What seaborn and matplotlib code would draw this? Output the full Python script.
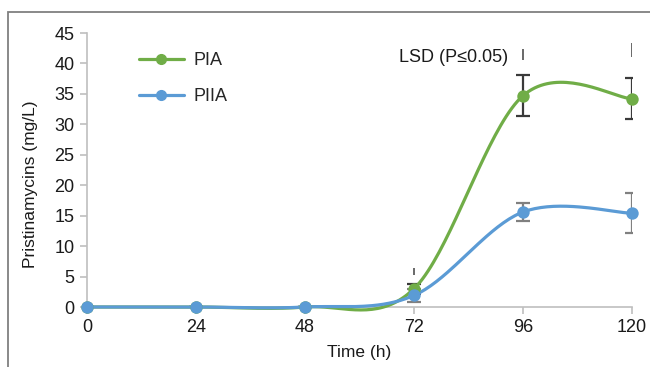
import numpy as np
import pandas as pd
import matplotlib
matplotlib.use("Agg")
import matplotlib.pyplot as plt
from matplotlib.lines import Line2D
from matplotlib.patches import Rectangle
import seaborn as sns

# ---- data ----
time_h = [0, 24, 48, 72, 96, 120]
pia = [0.0, 0.0, 0.0, 3.0, 34.7, 34.2]
pia_err = [0.0, 0.0, 0.0, 0.8, 3.4, 3.4]
piia = [0.0, 0.0, 0.0, 1.9, 15.6, 15.4]
piia_err = [0.0, 0.0, 0.0, 1.0, 1.4, 3.3]
lsd_time = [72, 96, 120]
lsd_center = [5.8, 41.5, 42.2]
lsd_half = [0.6, 0.9, 1.15]
series_names = ["PIA", "PIIA"]
colors = {"PIA": "#70AD47", "PIIA": "#5B9BD5"}
err_colors = {"PIA": "#3a3a3a", "PIIA": "#808080"}

df = pd.DataFrame({
    "time": time_h * 2,
    "value": pia + piia,
    "err": pia_err + piia_err,
    "series": ["PIA"] * len(time_h) + ["PIIA"] * len(time_h),
})


def excel_smooth(x, y, n=40):
    """Excel-like smoothed line: Catmull-Rom Bezier with 1/6 tangents."""
    P = np.column_stack([x, y]).astype(float)
    out = []
    for i in range(len(P) - 1):
        p0 = P[i - 1] if i > 0 else P[i]
        p1 = P[i]
        p2 = P[i + 1]
        p3 = P[i + 2] if i + 2 < len(P) else P[i + 1]
        c1 = p1 + (p2 - p0) / 6.0
        c2 = p2 - (p3 - p1) / 6.0
        t = np.linspace(0, 1, n)[:, None]
        seg = ((1 - t) ** 3) * p1 + 3 * ((1 - t) ** 2) * t * c1 + 3 * (1 - t) * t ** 2 * c2 + t ** 3 * p2
        out.append(seg if i == 0 else seg[1:])
    pts = np.vstack(out)
    return pts[:, 0], pts[:, 1]


sns.set_theme(style="white")
plt.rcParams["font.family"] = ["Liberation Sans", "DejaVu Sans"]

fig = plt.figure(figsize=(6.5, 3.67), dpi=100)
ax = fig.add_axes([87 / 650, 1 - 307 / 367, 545 / 650, 274 / 367])

# figure border
fig.patches.append(Rectangle((8 / 650, -0.2), 1.2, 1.2 - 12 / 367, transform=fig.transFigure,
                             fill=False, edgecolor="#808080", linewidth=1.3, zorder=0))

for name in series_names:
    sub = df[df["series"] == name]
    ax.errorbar(sub["time"], sub["value"], yerr=sub["err"], fmt="none",
                ecolor=err_colors[name], elinewidth=1.6, capsize=5, capthick=1.6, zorder=2)

for name in series_names:
    sub = df[df["series"] == name]
    sx, sy = excel_smooth(sub["time"].values, sub["value"].values)
    ax.plot(sx, sy, color=colors[name], lw=2.3, zorder=3, clip_on=False, solid_capstyle="round")
    sns.scatterplot(x=sub["time"], y=sub["value"], color=colors[name], s=80, linewidth=0,
                    ax=ax, zorder=4, clip_on=False, legend=False)

# LSD bars
ax.errorbar(lsd_time, lsd_center, yerr=lsd_half, fmt="none", ecolor="#404040",
            elinewidth=1.1, capsize=0, zorder=2)
ax.text(92.7, 41.0, "LSD (P≤0.05)", ha="right", va="center", fontsize=13, color="#1a1a1a")

ax.set_xlim(0, 120)
ax.set_ylim(0, 45)
ax.set_xticks(time_h)
ax.set_yticks(np.arange(0, 46, 5))
ax.tick_params(axis="both", labelsize=13, length=5, width=1.2, pad=4,
               direction="out", bottom=True, left=True,
               colors="#BFBFBF", labelcolor="#1a1a1a")
for s in ["top", "right"]:
    ax.spines[s].set_visible(False)
for s in ["left", "bottom"]:
    ax.spines[s].set_color("#BFBFBF")
    ax.spines[s].set_linewidth(1.2)
ax.set_xlabel("Time (h)", fontsize=12.5, color="#1a1a1a")
ax.set_ylabel("Pristinamycins (mg/L)", fontsize=12.5, color="#1a1a1a")
ax.xaxis.set_label_coords(0.5, -38 / 274, transform=ax.transAxes)
ax.yaxis.set_label_coords(-49 / 545, (307 - 184) / 274, transform=ax.transAxes)

handles = [Line2D([0], [0], color=colors[n], lw=2.3, marker="o", markersize=7) for n in series_names]
ax.legend(handles, series_names, loc="upper left", bbox_to_anchor=(0.065, 0.99), frameon=False,
          fontsize=13, handlelength=2.5, labelspacing=1.05, handletextpad=0.55)

fig.savefig("out.png", dpi=100)
